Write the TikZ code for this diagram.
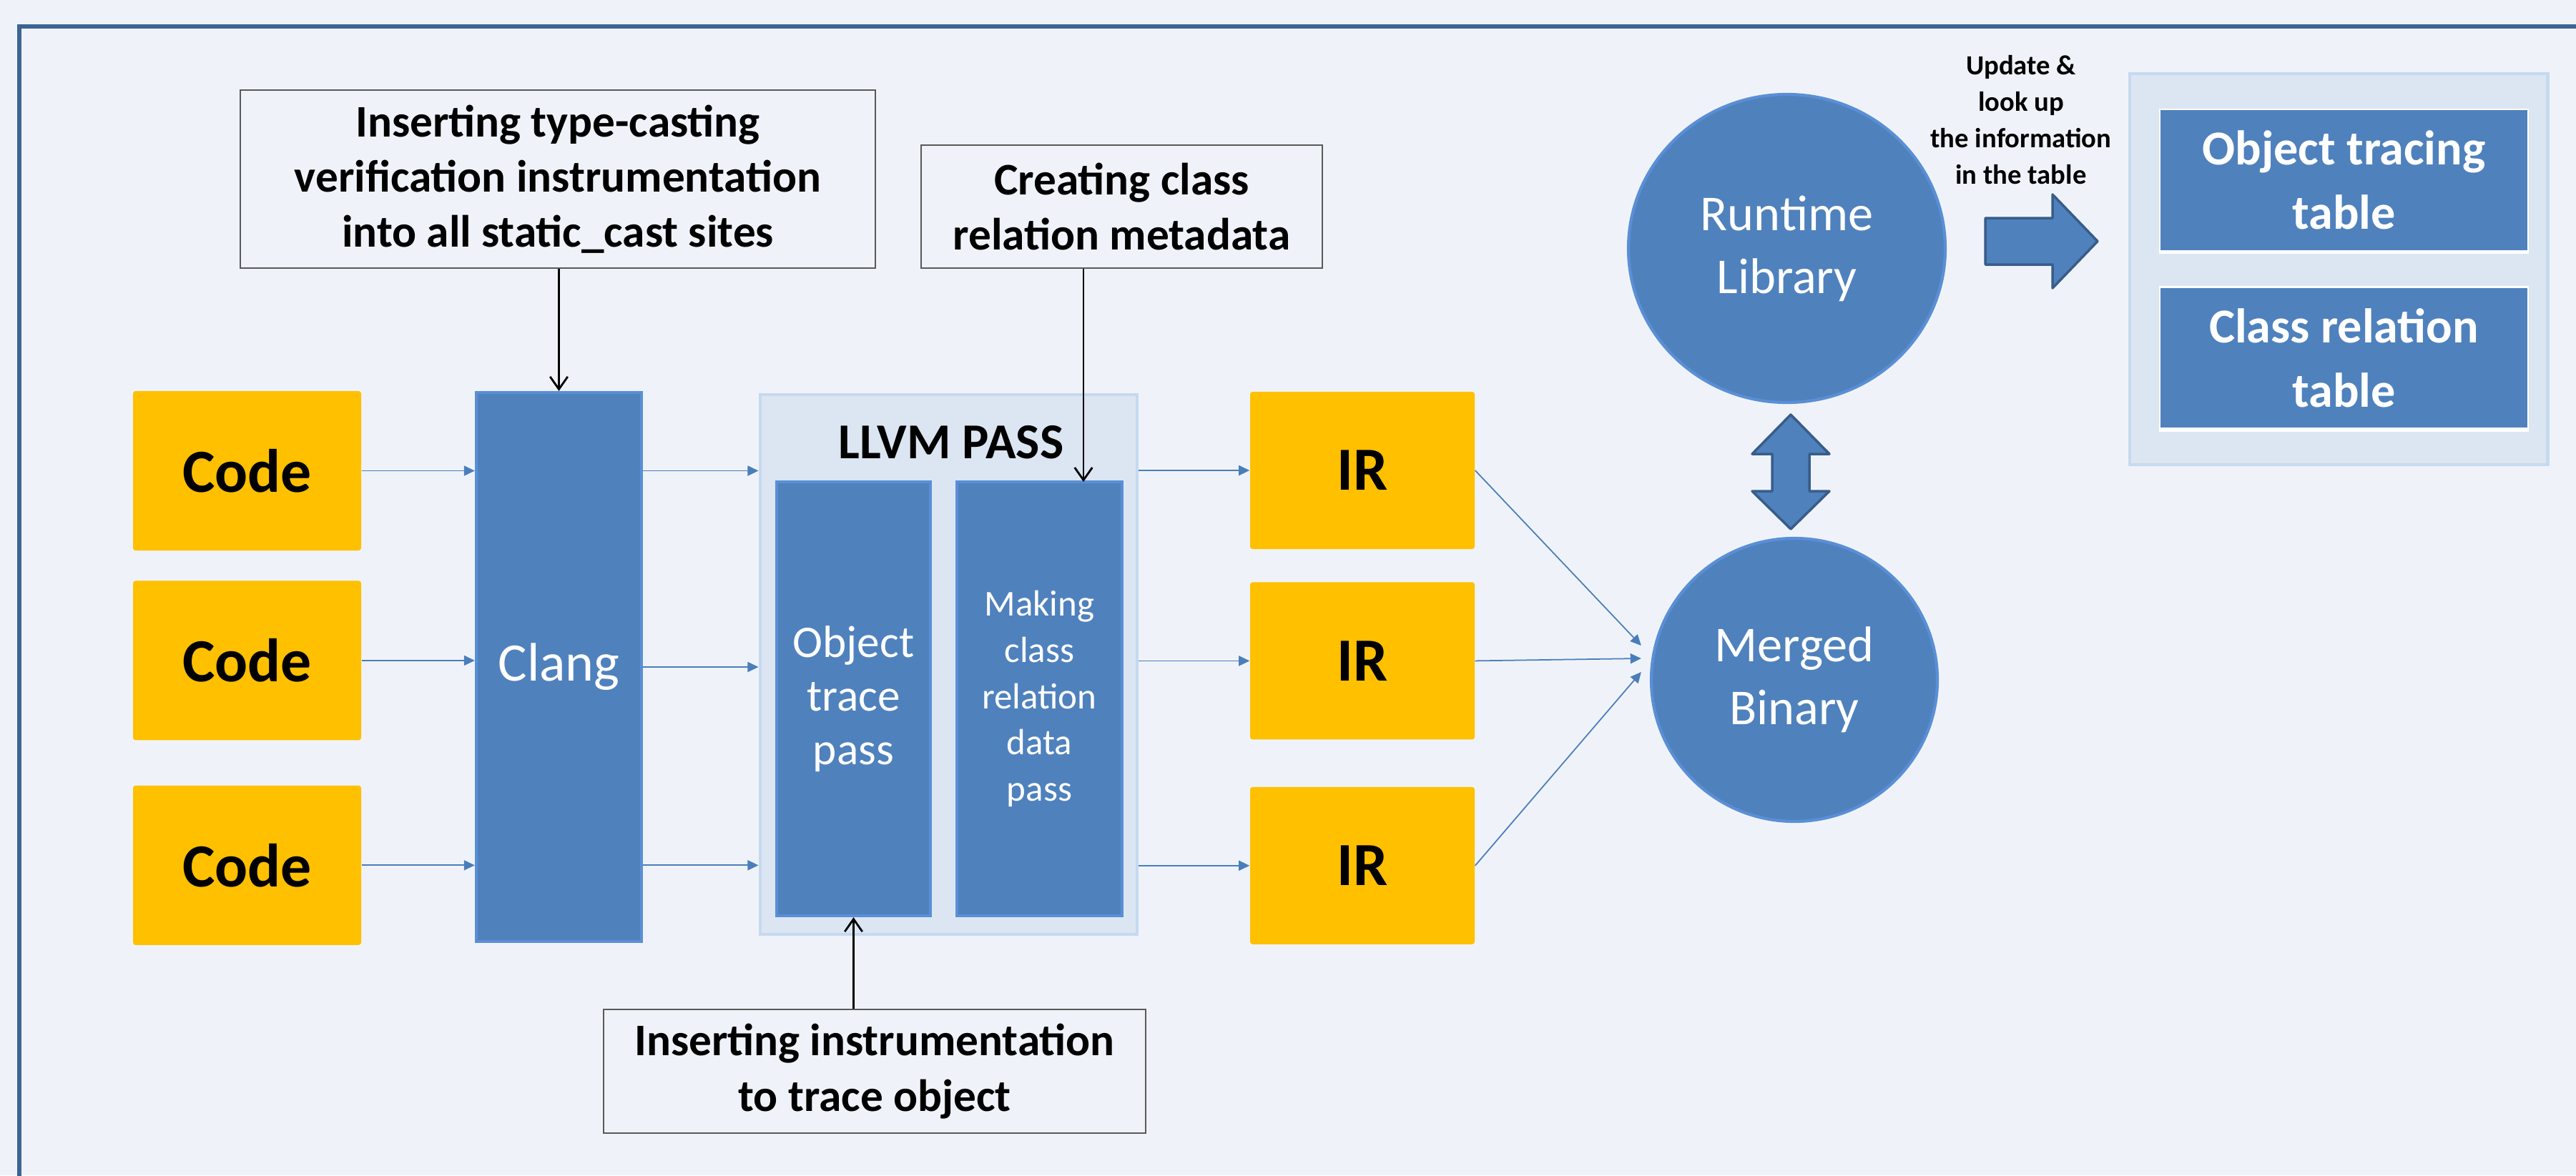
\documentclass[tikz,border=0pt]{standalone}
\usepackage{fontspec}
\setmainfont{Carlito}
\usepackage{tikz}
\usetikzlibrary{arrows.meta,positioning,shapes.geometric}

\definecolor{bgpanel}{HTML}{EFF3F9}
\definecolor{framec}{HTML}{3C6494}
\definecolor{boxblue}{HTML}{4F81BD}
\definecolor{boxedge}{HTML}{5A8FD6}
\definecolor{flowblue}{HTML}{4A7EBB}
\definecolor{codegold}{HTML}{FFC000}
\definecolor{groupfill}{HTML}{DCE6F2}
\definecolor{groupedge}{HTML}{C6D9F1}
\definecolor{darkedge}{HTML}{385D8A}
\definecolor{noteedge}{HTML}{595959}

\tikzset{
  src/.style={fill=codegold, rounded corners=1pt, minimum width=3.19cm, minimum height=2.23cm,
    inner sep=0pt, font=\fontsize{24.4}{29}\selectfont\bfseries},
  stage/.style={fill=boxblue, draw=boxedge, line width=1.2pt, text=white, align=center, inner sep=0pt},
  group/.style={fill=groupfill, draw=groupedge, line width=1.4pt, inner sep=0pt},
  hub/.style={ellipse, fill=boxblue, draw=boxedge, line width=1.2pt, text=white, align=center,
    inner sep=0pt, font=\fontsize{20}{25}\selectfont},
  tablebox/.style={fill=boxblue, draw=white, line width=0.8pt, text=white, align=center,
    minimum width=5.15cm, minimum height=1.98cm, inner sep=0pt, font=\fontsize{19.4}{25.6}\selectfont\bfseries},
  note/.style={draw=noteedge, line width=0.4pt, align=center, inner sep=0pt,
    font=\fontsize{18}{22}\selectfont\bfseries},
  flow/.style={-{Triangle[length=4.3pt,width=4pt]}, draw=flowblue, line width=0.5pt},
  hint/.style={-{Straight Barb[length=5pt,width=7pt]}, line width=0.8pt},
  bigarrow/.style={fill=boxblue, draw=darkedge, line width=1pt, line join=round}
}

\begin{document}
\begin{tikzpicture}[x=1cm,y=-1cm]
   % background and frame
   \path[use as bounding box, fill=bgpanel] (0,0) rectangle (36.02,16.44);
   \draw[framec, line width=1.7pt] (0.27,17) -- (0.27,0.37) -- (37,0.37);

   % sources
   \node[src] (code1) at (3.455,6.585) {Code};
   \node[src] (code2) [below=0.41cm of code1] {Code};
   \node[src] (code3) [below=0.62cm of code2] {Code};

   \node[stage, minimum width=2.31cm, minimum height=7.68cm, font=\fontsize{21.6}{26}\selectfont] (clang) at (7.815,9.33) {Clang};

   % llvm pass
   \node[group, minimum width=5.27cm, minimum height=7.55cm] (llvm) at (13.265,9.295) {};
   \node[anchor=base, font=\fontsize{20}{24}\selectfont\bfseries] (llvmtitle) at (13.30,6.41) {LLVM PASS};
   \node[stage, minimum width=2.15cm, minimum height=6.07cm, font=\fontsize{18}{21.3}\selectfont] (objpass) at (11.935,9.775) {Object\\trace\\pass};
   \node[stage, minimum width=2.31cm, minimum height=6.07cm, font=\fontsize{14.5}{18.4}\selectfont] (makepass) at (14.535,9.775) {Making\\class\\relation\\data\\pass};

   % IR
   \node[src, minimum width=3.14cm, minimum height=2.20cm] (ir1) at (19.05,6.58) {IR};
   \node[src, minimum width=3.14cm, minimum height=2.20cm] (ir2) [below=0.45cm of ir1] {IR};
   \node[src, minimum width=3.14cm, minimum height=2.20cm] (ir3) [below=0.65cm of ir2] {IR};

   % runtime side
   \node[hub, minimum width=4.43cm, minimum height=4.31cm] (runtime) at (24.985,3.475) {Runtime\\Library};
   \node[hub, minimum width=4.00cm, minimum height=3.96cm] (merged) at (25.09,9.51) {Merged\\Binary};

   % tables
   \node[group, minimum width=5.84cm, minimum height=5.47cm] (tables) at (32.70,3.765) {};
   \node[tablebox] (objtable) at (32.775,2.52) {Object tracing\\table};
   \node[tablebox] (classtable) at (32.775,5.005) {Class relation\\table};
   \draw[white, line width=1.6pt] (objtable.south west) -- (objtable.south east);
   \draw[white, line width=1.6pt] (classtable.south west) -- (classtable.south east);
   \node[align=center, font=\fontsize{11}{14.5}\selectfont\bfseries] (update) at (28.26,1.68) {Update \&\\look up\\the information\\in the table};

   % notes
   \node[note, minimum width=8.88cm, minimum height=2.49cm] (castnote) at (7.80,2.505) {Inserting type-casting\\verification instrumentation\\into all static\_cast sites};
   \node[note, minimum width=5.61cm, minimum height=1.72cm] (metanote) at (15.685,2.89) {Creating class\\relation metadata};
   \node[note, minimum width=7.58cm, minimum height=1.73cm] (tracenote) at (12.23,14.985) {Inserting instrumentation\\to trace object};
   \coordinate (metatip) at (15.15,6.74);

   \draw[flow] (code1.east) -- (code1.east -| clang.west);
   \draw[flow] (code2.east) -- (code2.east -| clang.west);
   \draw[flow] (code3.east) -- (code3.east -| clang.west);
   \draw[flow] (clang.east |- code1) -- (llvm.west |- code1);
   \draw[flow] (clang.east) -- (clang.east -| llvm.west);
   \draw[flow] (clang.east |- code3) -- (llvm.west |- code3);
   \draw[flow] (llvm.east |- ir1) -- (ir1.west);
   \draw[flow] (llvm.east |- ir2) -- (ir2.west);
   \draw[flow] (llvm.east |- ir3) -- (ir3.west);
   \draw[flow] (ir1.east) -- ([shift={(-0.12,-0.48)}]merged.west);
   \draw[flow] (ir2.east) -- ([shift={(-0.12,-0.30)}]merged.west);
   \draw[flow] (ir3.east) -- ([shift={(-0.12,-0.11)}]merged.west);

   \draw[hint] (castnote.south -| clang.north) -- (clang.north);
   \draw[hint] (metanote.south -| metatip) -- (metatip);
   \draw[hint] (tracenote.north -| objpass.south) -- (objpass.south);

   % block arrows
   \draw[bigarrow] (25.04,5.80) -- (25.58,6.35) -- (25.30,6.35) -- (25.30,6.87) -- (25.58,6.87)
     -- (25.04,7.40) -- (24.50,6.87) -- (24.78,6.87) -- (24.78,6.35) -- (24.50,6.35) -- cycle;
   \draw[bigarrow] (27.76,3.05) -- (28.70,3.05) -- (28.70,2.72) -- (29.33,3.375) -- (28.70,4.03)
     -- (28.70,3.70) -- (27.76,3.70) -- cycle;
\end{tikzpicture}
\end{document}
